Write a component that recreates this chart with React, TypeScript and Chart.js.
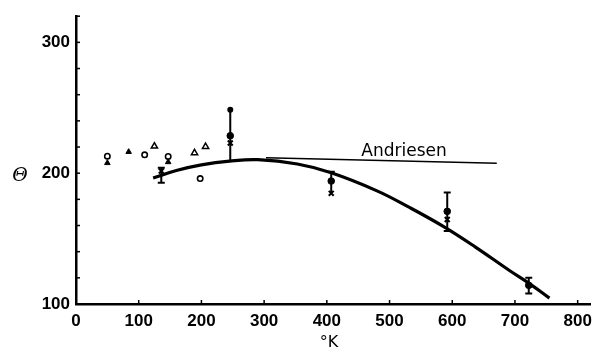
import React, { useEffect, useRef } from "react";
import { Chart, registerables } from "chart.js";

Chart.register(...registerables);

// ---- data (temperature °K, Θ) ----
const xTicks = [0, 100, 200, 300, 400, 500, 600, 700, 800];
const yLabelTicks = [100, 200, 300];

const curveX = [123, 160, 200, 245, 290, 353, 407, 480, 531, 585, 637, 690, 722, 755];
const curveY = [196.3, 202, 206.3, 209.2, 210.3, 207, 200.3, 186.5, 174, 159.5, 143.5, 126, 116, 104.5];

const andriesenX = [303, 671];
const andriesenY = [211.8, 207.6];

const openCircleX = [50, 109.5, 147, 198];
const openCircleY = [213, 214, 212.8, 195.9];

const openTriX = [125, 189, 206.6];
const openTriY = [220.6, 215.5, 220.3];

const filledTriX = [50, 84, 147];
const filledTriY = [207.8, 216.3, 208.5];

const dotX = [246, 407, 592, 722];
const dotY = [228.6, 194, 170.8, 114.3];

const crossX = [136, 246, 407, 592, 722];
const crossY = [201.7, 223.1, 184.6, 164.6, 114.3];

const errX = [136, 246, 407, 592, 722];
const errLow = [192.7, 209, 184.6, 155.8, 108.1];
const errHigh = [204.2, 248.5, 201, 185.2, 120.1];
const errLowCap = ["line", false, false, "line", "line"];
const errHighCap = ["line", "circle", "line", "line", "line"];

const zip = (xs: number[], ys: number[]) => xs.map((x, i) => ({ x, y: ys[i] }));

const textPlugin = {
  id: "texts",
  afterDraw(chart: any) {
    const { ctx, scales } = chart;
    const x = scales.x;
    const y = scales.y;
    ctx.save();
    ctx.fillStyle = "#000";
    ctx.strokeStyle = "#000";
    // inward tick marks
    ctx.lineWidth = 1.5;
    x.ticks.forEach((t: any) => {
      const px = x.getPixelForValue(t.value);
      ctx.beginPath();
      ctx.moveTo(px, chart.chartArea.bottom);
      ctx.lineTo(px, chart.chartArea.bottom - 4);
      ctx.stroke();
    });
    y.ticks.forEach((t: any) => {
      const py = y.getPixelForValue(t.value);
      ctx.beginPath();
      ctx.moveTo(chart.chartArea.left, py);
      ctx.lineTo(chart.chartArea.left + 4, py);
      ctx.stroke();
    });
    // Andriesen label
    ctx.font = '17px "DejaVu Sans"';
    ctx.textAlign = "left";
    ctx.textBaseline = "alphabetic";
    ctx.fillText("Andriesen", x.getPixelForValue(455), y.getPixelForValue(213));
    // axis titles
    ctx.textAlign = "center";
    ctx.textBaseline = "middle";
    ctx.font = 'italic 19px "DejaVu Serif"';
    ctx.fillText("Θ", 20, 176);
    ctx.font = '16px "DejaVu Sans"';
    ctx.fillText("°K", 329, 343);
    ctx.restore();
  },
};

export default function App() {
  const ref = useRef<HTMLCanvasElement>(null);
  useEffect(() => {
    if (!ref.current) return;
    const errSets = errX.map((ex, i) => ({
      type: "line" as const,
      data: [
        { x: ex, y: errLow[i] },
        { x: ex, y: errHigh[i] },
      ],
      borderColor: "#000",
      backgroundColor: "#000",
      borderWidth: 2,
      showLine: true,
      pointStyle: [errLowCap[i], errHighCap[i]] as any,
      pointRadius: [errLowCap[i] === "circle" ? 2 : 3.5, errHighCap[i] === "circle" ? 2 : 3.5],
      pointBorderWidth: 2,
      order: 3,
    }));
    const chart = new Chart(ref.current, {
      type: "scatter",
      data: {
        datasets: [
          {
            type: "line",
            data: zip(curveX, curveY),
            borderColor: "#000",
            borderWidth: 3.2,
            pointRadius: 0,
            showLine: true,
            tension: 0.4,
            order: 5,
          } as any,
          {
            type: "line",
            data: zip(andriesenX, andriesenY),
            borderColor: "#000",
            borderWidth: 1.5,
            pointRadius: 0,
            showLine: true,
            order: 5,
          } as any,
          ...errSets,
          {
            data: zip(openCircleX, openCircleY),
            pointStyle: "circle",
            pointRadius: 2.7,
            borderColor: "#000",
            backgroundColor: "#fff",
            borderWidth: 1.6,
            order: 1,
          },
          {
            data: zip(openTriX, openTriY),
            pointStyle: "triangle",
            pointRadius: 3.6,
            borderColor: "#000",
            backgroundColor: "#fff",
            borderWidth: 1.5,
            order: 1,
          },
          {
            data: zip(filledTriX, filledTriY),
            pointStyle: "triangle",
            pointRadius: 3.2,
            borderColor: "#000",
            backgroundColor: "#000",
            borderWidth: 1,
            order: 1,
          },
          {
            data: zip(dotX, dotY),
            pointStyle: "circle",
            pointRadius: 3.3,
            borderColor: "#000",
            backgroundColor: "#000",
            borderWidth: 1,
            order: 1,
          },
          {
            data: zip(crossX, crossY),
            pointStyle: "crossRot",
            pointRadius: 3.5,
            borderColor: "#000",
            backgroundColor: "#000",
            borderWidth: 2,
            order: 1,
          },
        ] as any,
      },
      options: {
        animation: false,
        responsive: false,
        maintainAspectRatio: false,
        layout: { padding: { top: 12, right: 2.3, left: 0, bottom: 0 } },
        plugins: { legend: { display: false }, tooltip: { enabled: false } },
        scales: {
          x: {
            type: "linear",
            min: 0,
            max: 820,
            afterBuildTicks: (s: any) => {
              s.ticks = xTicks.map((v) => ({ value: v }));
            },
            afterFit: (s: any) => {
              s.height = 47;
            },
            ticks: {
              padding: 7,
              color: "#000",
              font: { family: '"Liberation Sans"', size: 17, weight: "bold" },
              callback: (v: any) => String(v),
            },
            grid: { display: true, drawOnChartArea: false, drawTicks: false },
            border: { display: true, color: "#000", width: 2.5 },
          },
          y: {
            type: "linear",
            min: 100,
            max: 320,
            afterBuildTicks: (s: any) => {
              const t: any[] = [];
              for (let v = 100; v <= 320; v += 20) t.push({ value: v });
              s.ticks = t;
            },
            afterFit: (s: any) => {
              s.width = 76;
            },
            ticks: {
              padding: 6,
              color: "#000",
              font: { family: '"Liberation Sans"', size: 17, weight: "bold" },
              callback: (v: any) => (yLabelTicks.includes(v) ? String(v) : ""),
            },
            grid: { display: true, drawOnChartArea: false, drawTicks: false },
            border: { display: true, color: "#000", width: 2.5 },
          },
        },
      },
      plugins: [textPlugin],
    });
    return () => chart.destroy();
  }, []);
  return (
    <div style={{ position: "fixed", left: 0, top: 0, width: 599, height: 351, background: "#fff" }}>
      <canvas ref={ref} width={599} height={351} style={{ width: 599, height: 351, display: "block" }} />
    </div>
  );
}
